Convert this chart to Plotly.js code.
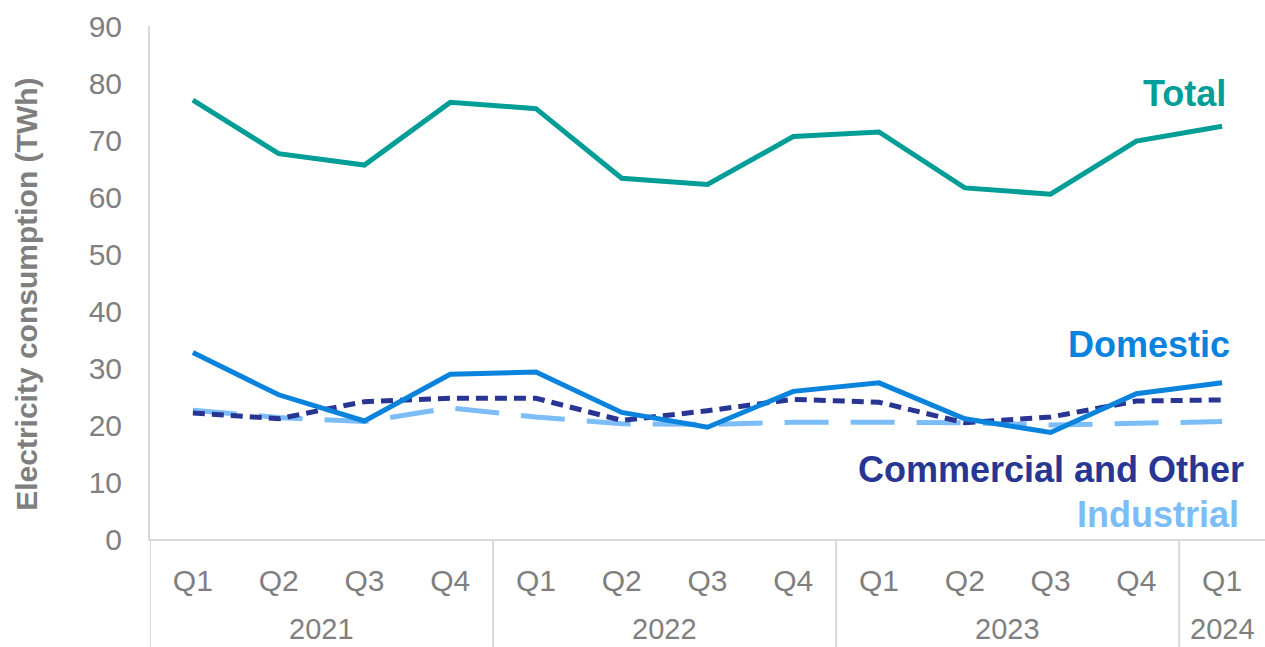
<!DOCTYPE html>
<html>
<head>
<meta charset="utf-8">
<script src="https://cdn.plot.ly/plotly-3.0.1.min.js"></script>
<style>
html,body{margin:0;padding:0;background:#fff;}
#chart{width:1265px;height:647px;}
</style>
</head>
<body>
<div id="chart"></div>
<script>
// ---- data ----
const years    = ['2021','2021','2021','2021','2022','2022','2022','2022','2023','2023','2023','2023','2024'];
const quarters = ['Q1','Q2','Q3','Q4','Q1','Q2','Q3','Q4','Q1','Q2','Q3','Q4','Q1'];
const total      = [77.0, 67.6, 65.6, 76.6, 75.5, 63.3, 62.2, 70.6, 71.4, 61.6, 60.5, 69.8, 72.4];
const domestic   = [32.7, 25.3, 20.7, 28.9, 29.3, 22.2, 19.6, 25.9, 27.4, 21.1, 18.7, 25.5, 27.4];
const commercial = [22.1, 21.1, 24.1, 24.7, 24.7, 20.8, 22.5, 24.5, 24.0, 20.4, 21.4, 24.2, 24.4];
const industrial = [22.6, 21.3, 20.6, 23.0, 21.4, 20.2, 20.1, 20.5, 20.5, 20.4, 20.0, 20.3, 20.6];
const seriesNames = ['Total', 'Domestic', 'Commercial and Other', 'Industrial'];
const yTitle = 'Electricity consumption (TWh)';

const FONT = 'Liberation Sans, Arial, sans-serif';
const GREY = '#7f7f7f', LINE = '#d9d9d9';
const C_TOTAL = '#009E96', C_DOM = '#0A83DC', C_COM = '#283593', C_IND = '#7CBDF8';

// category keys built from the data arrays; quarter shown as tick text
const xkeys = years.map((y, i) => y + ' ' + quarters[i]);

const traces = [
  {x: xkeys, y: industrial, name: seriesNames[3], type: 'scatter', mode: 'lines',
   line: {color: C_IND, width: 5, dash: '44px,22px'}},
  {x: xkeys, y: commercial, name: seriesNames[2], type: 'scatter', mode: 'lines',
   line: {color: C_COM, width: 5, dash: '12px,7px'}},
  {x: xkeys, y: domestic, name: seriesNames[1], type: 'scatter', mode: 'lines',
   line: {color: C_DOM, width: 5}},
  {x: xkeys, y: total, name: seriesNames[0], type: 'scatter', mode: 'lines',
   line: {color: C_TOTAL, width: 5}}
];

// year groups (from the years array)
const groups = [];
years.forEach((y, i) => {
  const g = groups.find(o => o.year === y);
  if (g) g.last = i; else groups.push({year: y, first: i, last: i});
});

const annotations = [];
const shapes = [];
groups.forEach((g) => {
  annotations.push({
    text: g.year, xref: 'x', yref: 'paper', x: (g.first + g.last) / 2, y: -0.1745,
    xanchor: 'center', yanchor: 'middle', showarrow: false,
    font: {family: FONT, size: 29, color: GREY}
  });
  // divider on the left edge of each year group
  shapes.push({type: 'line', xref: 'x', yref: 'paper',
    x0: g.first - 0.5, x1: g.first - 0.5, y0: 0, y1: -0.25,
    line: {color: LINE, width: 2}});
});

const lab = (text, x, y, color) => ({
  text: '<b>' + text + '</b>', xref: 'paper', yref: 'paper', x: x, y: y,
  xanchor: 'center', yanchor: 'middle', showarrow: false,
  font: {family: FONT, size: 36, color: color}
});
annotations.push(
  lab(seriesNames[0], 0.928, 0.869, C_TOTAL),
  lab(seriesNames[1], 0.896, 0.380, C_DOM),
  lab(seriesNames[2], 0.808, 0.136, C_COM),
  lab(seriesNames[3], 0.904, 0.047, C_IND),
  {text: '<b>' + yTitle + '</b>', xref: 'paper', yref: 'paper', x: -0.1103, y: 0.476,
   xanchor: 'center', yanchor: 'middle', textangle: -90, showarrow: false,
   font: {family: FONT, size: 30, color: GREY}}
);

const layout = {
  width: 1265, height: 647,
  margin: {l: 150, r: 0, t: 26, b: 108, pad: 0},
  paper_bgcolor: '#fff', plot_bgcolor: '#fff',
  showlegend: false,
  font: {family: FONT, color: GREY},
  xaxis: {
    type: 'category',
    range: [-0.5, 12.5],
    tickvals: xkeys, ticktext: quarters,
    showline: true, linecolor: LINE, linewidth: 2,
    showgrid: false, zeroline: false, ticks: '',
    ticklabelstandoff: 14,
    tickfont: {family: FONT, size: 30, color: GREY}
  },
  yaxis: {
    range: [0, 90], dtick: 10,
    showline: true, linecolor: LINE, linewidth: 2,
    showgrid: false, zeroline: false, ticks: '',
    ticklabelstandoff: 20,
    tickfont: {family: FONT, size: 30, color: GREY}
  },
  shapes: shapes,
  annotations: annotations
};

Plotly.newPlot('chart', traces, layout, {displayModeBar: false, staticPlot: true});
</script>
</body>
</html>
